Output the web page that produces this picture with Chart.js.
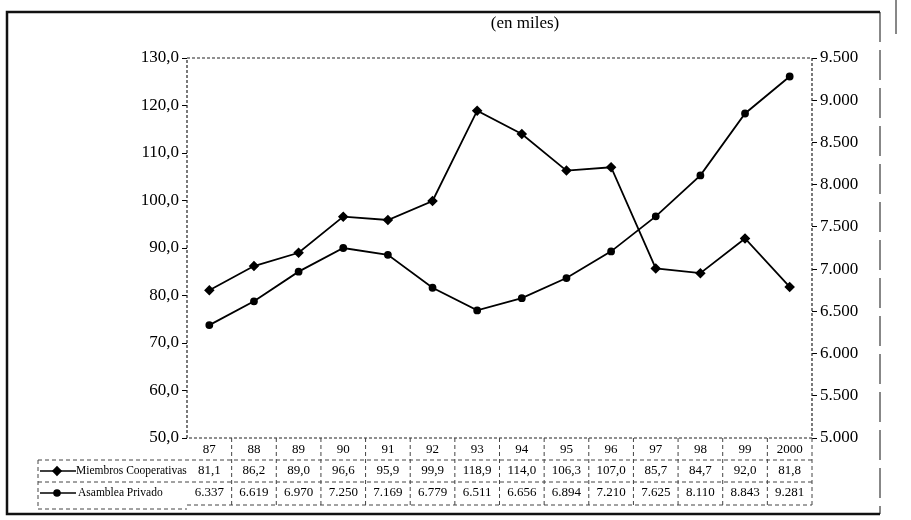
<!DOCTYPE html>
<html>
<head>
<meta charset="utf-8">
<script src="https://cdn.jsdelivr.net/npm/chart.js@4.4.1/dist/chart.umd.min.js"></script>
<style>
  html, body { margin: 0; padding: 0; background: #fff; overflow: hidden; }
  canvas { display: block; }
</style>
</head>
<body>
<canvas id="chart" width="911" height="520" style="width:911px;height:520px"></canvas>
<script>
// Datos (en miles)
const years = ['87', '88', '89', '90', '91', '92', '93', '94', '95', '96', '97', '98', '99', '2000'];
const miembros = [81.1, 86.2, 89.0, 96.6, 95.9, 99.9, 118.9, 114.0, 106.3, 107.0, 85.7, 84.7, 92.0, 81.8];
const asamblea = [6337, 6619, 6970, 7250, 7169, 6779, 6511, 6656, 6894, 7210, 7625, 8110, 8843, 9281];
const seriesNames = ['Miembros Cooperativas', 'Asamblea Privado'];
const titleText = '(en miles)';

const serif = "'Liberation Serif', 'DejaVu Serif', serif";

// formato con coma decimal / punto de miles
const fmtLeft = v => v.toFixed(1).replace('.', ',');
const fmtRight = v => {
    const s = Math.round(v).toString();
    return s.length > 3 ? s.slice(0, s.length - 3) + '.' + s.slice(s.length - 3) : s;
};

// Marco, título, borde del área y tabla de datos
const tablePlugin = {
    id: 'tablePlugin',
    afterDraw(chart) {
        const c = chart.ctx;
        const a = chart.chartArea;
        const x = chart.scales.x;
        c.save();

        // marco exterior
        c.strokeStyle = '#111';
        c.lineWidth = 2.5;
        c.beginPath();
        c.moveTo(880, 12); c.lineTo(7, 12); c.lineTo(7, 514); c.lineTo(880, 514);
        c.stroke();
        c.lineWidth = 1;
        c.setLineDash([30, 8]);
        c.beginPath(); c.moveTo(880, 12); c.lineTo(880, 514); c.stroke();
        c.setLineDash([]);
        c.beginPath(); c.moveTo(896, 0); c.lineTo(896, 34); c.stroke();

        // título
        c.fillStyle = '#000';
        c.font = '17px ' + serif;
        c.textAlign = 'center';
        c.textBaseline = 'middle';
        c.fillText(titleText, 525, 24);

        // borde punteado del área
        c.lineWidth = 1.2;
        c.setLineDash([3, 2]);
        c.strokeStyle = '#222';
        c.strokeRect(a.left, a.top, a.right - a.left, a.bottom - a.top);

        // tabla
        const rowH = 22;
        const r0 = a.bottom, r1 = r0 + rowH, r2 = r1 + rowH, r3 = r2 + rowH + 1;
        const colW = (a.right - a.left) / years.length;
        c.lineWidth = 1;
        c.strokeStyle = '#444';
        c.setLineDash([4, 3]);
        for (let i = 1; i < years.length; i++) {
            const xx = a.left + i * colW;
            c.beginPath(); c.moveTo(xx, r0); c.lineTo(xx, r3); c.stroke();
        }
        c.beginPath(); c.moveTo(a.right, r0); c.lineTo(a.right, r3); c.stroke();
        [r1, r2].forEach(yy => {
            c.beginPath(); c.moveTo(38, yy); c.lineTo(a.right, yy); c.stroke();
        });
        c.beginPath(); c.moveTo(a.left, r3); c.lineTo(a.right, r3); c.stroke();
        c.beginPath(); c.moveTo(38, r3 + 4); c.lineTo(a.left, r3 + 4); c.stroke();
        c.beginPath(); c.moveTo(38, r1); c.lineTo(38, r3 + 4); c.stroke();
        c.setLineDash([]);

        c.fillStyle = '#000';
        c.font = '13px ' + serif;
        c.textAlign = 'center';
        years.forEach((yr, i) => {
            const cx = x.getPixelForValue(i);
            c.fillText(yr, cx, r0 + rowH / 2 + 1);
            c.fillText(fmtLeft(miembros[i]), cx, r1 + rowH / 2);
            c.fillText(fmtRight(asamblea[i]), cx, r2 + rowH / 2);
        });

        // leyenda en la tabla
        const legendRows = [r1 + rowH / 2, r2 + rowH / 2];
        const styles = ['rectRot', 'circle'];
        legendRows.forEach((yy, k) => {
            c.strokeStyle = '#000';
            c.lineWidth = 1.6;
            c.beginPath(); c.moveTo(40, yy); c.lineTo(76, yy); c.stroke();
            Chart.helpers.drawPoint(c, { pointStyle: styles[k], radius: k === 0 ? 4 : 3, borderWidth: 1 }, 57, yy);
            c.fillStyle = '#000';
            c.textAlign = 'left';
            c.font = '11.5px ' + serif;
            c.fillText(seriesNames[k], k === 0 ? 76 : 78, yy);
        });
        c.restore();
    }
};

const ctx = document.getElementById('chart').getContext('2d');
const chart = new Chart(ctx, {
    type: 'line',
    data: {
        labels: years,
        datasets: [{
            label: seriesNames[0],
            data: miembros,
            yAxisID: 'y',
            borderColor: '#000',
            backgroundColor: '#000',
            borderWidth: 1.8,
            pointStyle: 'rectRot',
            pointRadius: 4,
            tension: 0
        }, {
            label: seriesNames[1],
            data: asamblea,
            yAxisID: 'y1',
            borderColor: '#000',
            backgroundColor: '#000',
            borderWidth: 1.8,
            pointStyle: 'circle',
            pointRadius: 3,
            tension: 0
        }]
    },
    options: {
        responsive: false,
        animation: false,
        devicePixelRatio: 1,
        layout: { padding: { left: 0, right: 0, top: 58, bottom: 82 } },
        plugins: {
            legend: { display: false },
            tooltip: { enabled: false }
        },
        scales: {
            x: {
                display: false,
                offset: true
            },
            y: {
                position: 'left',
                min: 50, max: 130,
                afterFit: s => { s.width = 187; },
                border: { display: false },
                grid: { drawOnChartArea: false, tickLength: 5, color: '#000' },
                ticks: {
                    stepSize: 10,
                    color: '#000',
                    font: { family: serif, size: 17 },
                    padding: 3,
                    callback: v => fmtLeft(v)
                }
            },
            y1: {
                position: 'right',
                min: 5000, max: 9500,
                afterFit: s => { s.width = 99; },
                border: { display: false },
                grid: { drawOnChartArea: false, tickLength: 5, color: '#000' },
                ticks: {
                    stepSize: 500,
                    color: '#000',
                    font: { family: serif, size: 17 },
                    padding: 3,
                    callback: v => fmtRight(v)
                }
            }
        }
    },
    plugins: [tablePlugin]
});
</script>
</body>
</html>
